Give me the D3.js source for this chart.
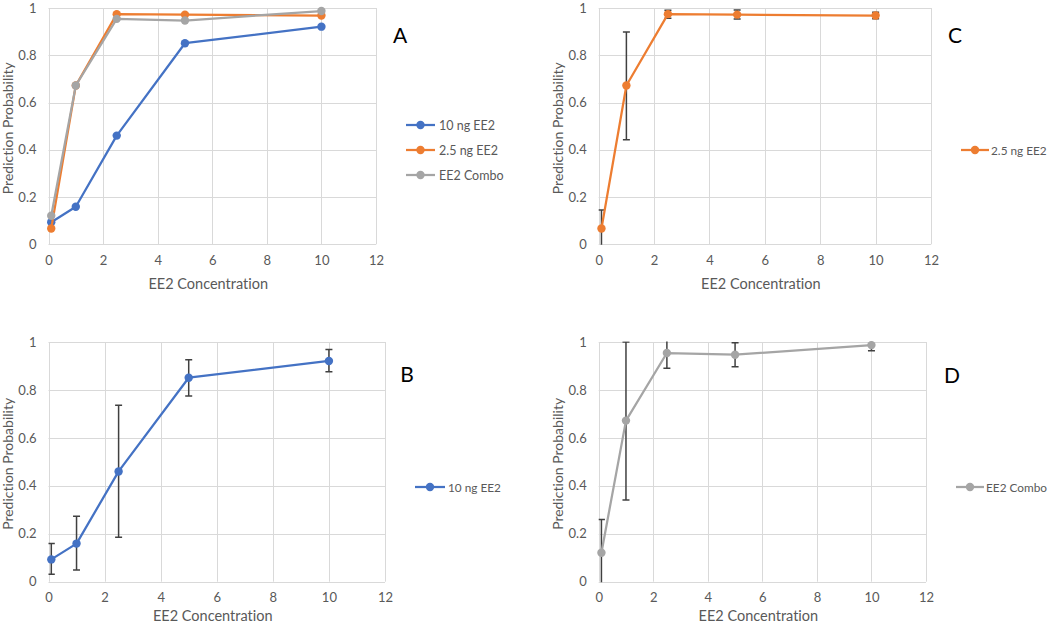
<!DOCTYPE html>
<html>
<head>
<meta charset="utf-8">
<script src="https://cdn.jsdelivr.net/npm/d3@7"></script>
<style>
  html, body { margin: 0; padding: 0; background: #fff; }
  svg { display: block; font-family: Lato, "Open Sans", sans-serif; font-variant-ligatures: none; }
</style>
</head>
<body>
<svg id="chart" width="1050" height="626"></svg>
<script>
// ---------- data ----------
const concentrations = [0.1, 1, 2.5, 5, 10];
const xTicks = [0, 2, 4, 6, 8, 10, 12];
const yTicks = [0, 0.2, 0.4, 0.6, 0.8, 1];

const ng10   = [0.093, 0.159, 0.46, 0.851, 0.921];
const ng10Lo = [0.031, 0.049, 0.185, 0.775, 0.876];
const ng10Hi = [0.159, 0.273, 0.736, 0.926, 0.969];

const ng25   = [0.067, 0.672, 0.974, 0.972, 0.968];
const ng25Lo = [-0.01, 0.442, 0.957, 0.953, 0.955];
const ng25Hi = [0.145, 0.898, 0.99, 0.992, 0.982];

const combo   = [0.121, 0.672, 0.954, 0.947, 0.987];
const comboLo = [-0.02, 0.341, 0.89, 0.897, 0.963];
const comboHi = [0.26, 1.0, 1.03, 0.997, 1.01];

const seriesNames = ["10 ng EE2", "2.5 ng EE2", "EE2 Combo"];
const seriesColors = ["#4472C4", "#ED7D31", "#A5A5A5"];
const series = [
  { name: seriesNames[0], color: seriesColors[0], values: ng10,  lo: ng10Lo,  hi: ng10Hi },
  { name: seriesNames[1], color: seriesColors[1], values: ng25,  lo: ng25Lo,  hi: ng25Hi },
  { name: seriesNames[2], color: seriesColors[2], values: combo, lo: comboLo, hi: comboHi }
];

// ---------- layout ----------
const panels = [
  { label: "A", series: [0, 1, 2], errors: false,
    x0: 48.5, x1: 376, y0: 8, y1: 244.3, lab: [400, 36], leg: [406, 435, 439, [125, 150, 175]] },
  { label: "C", series: [1], errors: true,
    x0: 598.7, x1: 931, y0: 8, y1: 244.3, lab: [955, 36], leg: [961, 989, 991, [150]] },
  { label: "B", series: [0], errors: true,
    x0: 48.5, x1: 385, y0: 342, y1: 581.7, lab: [407, 375], leg: [415, 445, 448, [487]] },
  { label: "D", series: [2], errors: true,
    x0: 598.7, x1: 926, y0: 342, y1: 581.7, lab: [952, 376], leg: [956, 984, 986, [487]] }
];

const svg = d3.select("#chart");
const gridColor = "#d9d9d9";
const textColor = "#595959";

panels.forEach((p, pi) => {
  const x = d3.scaleLinear().domain([0, 12]).range([p.x0, p.x1]);
  const y = d3.scaleLinear().domain([0, 1]).range([p.y1, p.y0]);
  const g = svg.append("g");

  const clipId = "clip" + pi;
  svg.append("clipPath").attr("id", clipId)
    .append("rect").attr("x", p.x0).attr("y", p.y0 - 0.5)
    .attr("width", p.x1 - p.x0).attr("height", p.y1 - p.y0 + 1);

  // grid lines
  g.append("g").selectAll("line").data(yTicks).join("line")
    .attr("x1", p.x0).attr("x2", p.x1)
    .attr("y1", d => Math.round(y(d)) + 0.5).attr("y2", d => Math.round(y(d)) + 0.5)
    .attr("stroke", gridColor).attr("stroke-width", 1);
  g.append("g").selectAll("line").data(xTicks).join("line")
    .attr("y1", p.y0).attr("y2", p.y1)
    .attr("x1", d => Math.round(x(d)) + 0.5).attr("x2", d => Math.round(x(d)) + 0.5)
    .attr("stroke", gridColor).attr("stroke-width", 1);

  // axes (labels only)
  const xAxis = d3.axisBottom(x).tickValues(xTicks).tickSize(0).tickPadding(11).tickFormat(d3.format("d"));
  const yAxis = d3.axisLeft(y).tickValues(yTicks).tickSize(0).tickPadding(12).tickFormat(d => String(d));
  const gx = g.append("g").attr("transform", `translate(0,${p.y1})`).call(xAxis);
  const gy = g.append("g").attr("transform", `translate(${p.x0},0)`).call(yAxis);
  [gx, gy].forEach(a => {
    a.select(".domain").remove();
    a.selectAll("text").attr("fill", textColor).style("font-size", "13px").style("font-family", "Lato, 'Open Sans', sans-serif");
  });

  // axis titles
  g.append("text")
    .attr("x", (p.x0 + p.x1) / 2 - 4).attr("y", Math.min(p.y1 + 44.5, 621))
    .attr("text-anchor", "middle").attr("fill", textColor)
    .style("font-size", "14.5px").text("EE2 Concentration");
  g.append("text")
    .attr("transform", `translate(${p.x0 - 36},${(p.y0 + p.y1) / 2 + 2}) rotate(-90)`)
    .attr("text-anchor", "middle").attr("fill", textColor)
    .style("font-size", "14px").text("Prediction Probability");

  // panel letter
  g.append("text").attr("x", p.lab[0]).attr("y", p.lab[1] + 7)
    .attr("text-anchor", "middle").attr("fill", "#000")
    .style("font-size", "21px").text(p.label);

  const plot = g.append("g").attr("clip-path", `url(#${clipId})`);

  p.series.forEach(si => {
    const s = series[si];
    const pts = concentrations.map((c, i) => ({ c, v: s.values[i], lo: s.lo[i], hi: s.hi[i] }));
    if (p.errors) {
      const eb = plot.append("g").attr("stroke", "#404040").attr("stroke-width", 1.5);
      pts.forEach(d => {
        const xc = x(d.c);
        eb.append("line").attr("x1", xc).attr("x2", xc).attr("y1", y(d.lo)).attr("y2", y(d.hi));
        eb.append("line").attr("x1", xc - 3.5).attr("x2", xc + 3.5).attr("y1", y(d.lo)).attr("y2", y(d.lo));
        eb.append("line").attr("x1", xc - 3.5).attr("x2", xc + 3.5).attr("y1", y(d.hi)).attr("y2", y(d.hi));
      });
    }
    const line = d3.line().x(d => x(d.c)).y(d => y(d.v));
    g.append("path").datum(pts).attr("d", line)
      .attr("fill", "none").attr("stroke", s.color).attr("stroke-width", 2.25)
      .attr("stroke-linejoin", "round");
    g.append("g").selectAll("circle").data(pts).join("circle")
      .attr("cx", d => x(d.c)).attr("cy", d => y(d.v)).attr("r", 4.2)
      .attr("fill", s.color);
  });

  // legend
  p.series.forEach((si, k) => {
    const s = series[si];
    const ly = p.leg[3][k];
    g.append("line").attr("x1", p.leg[0]).attr("x2", p.leg[1]).attr("y1", ly).attr("y2", ly)
      .attr("stroke", s.color).attr("stroke-width", 2.25);
    g.append("circle").attr("cx", (p.leg[0] + p.leg[1]) / 2).attr("cy", ly).attr("r", 4.2).attr("fill", s.color);
    g.append("text").attr("x", p.leg[2]).attr("y", ly + 4.5).attr("fill", textColor)
      .style("font-size", p.series.length > 1 ? "12.5px" : "11.8px").text(s.name);
  });
});
</script>
</body>
</html>
